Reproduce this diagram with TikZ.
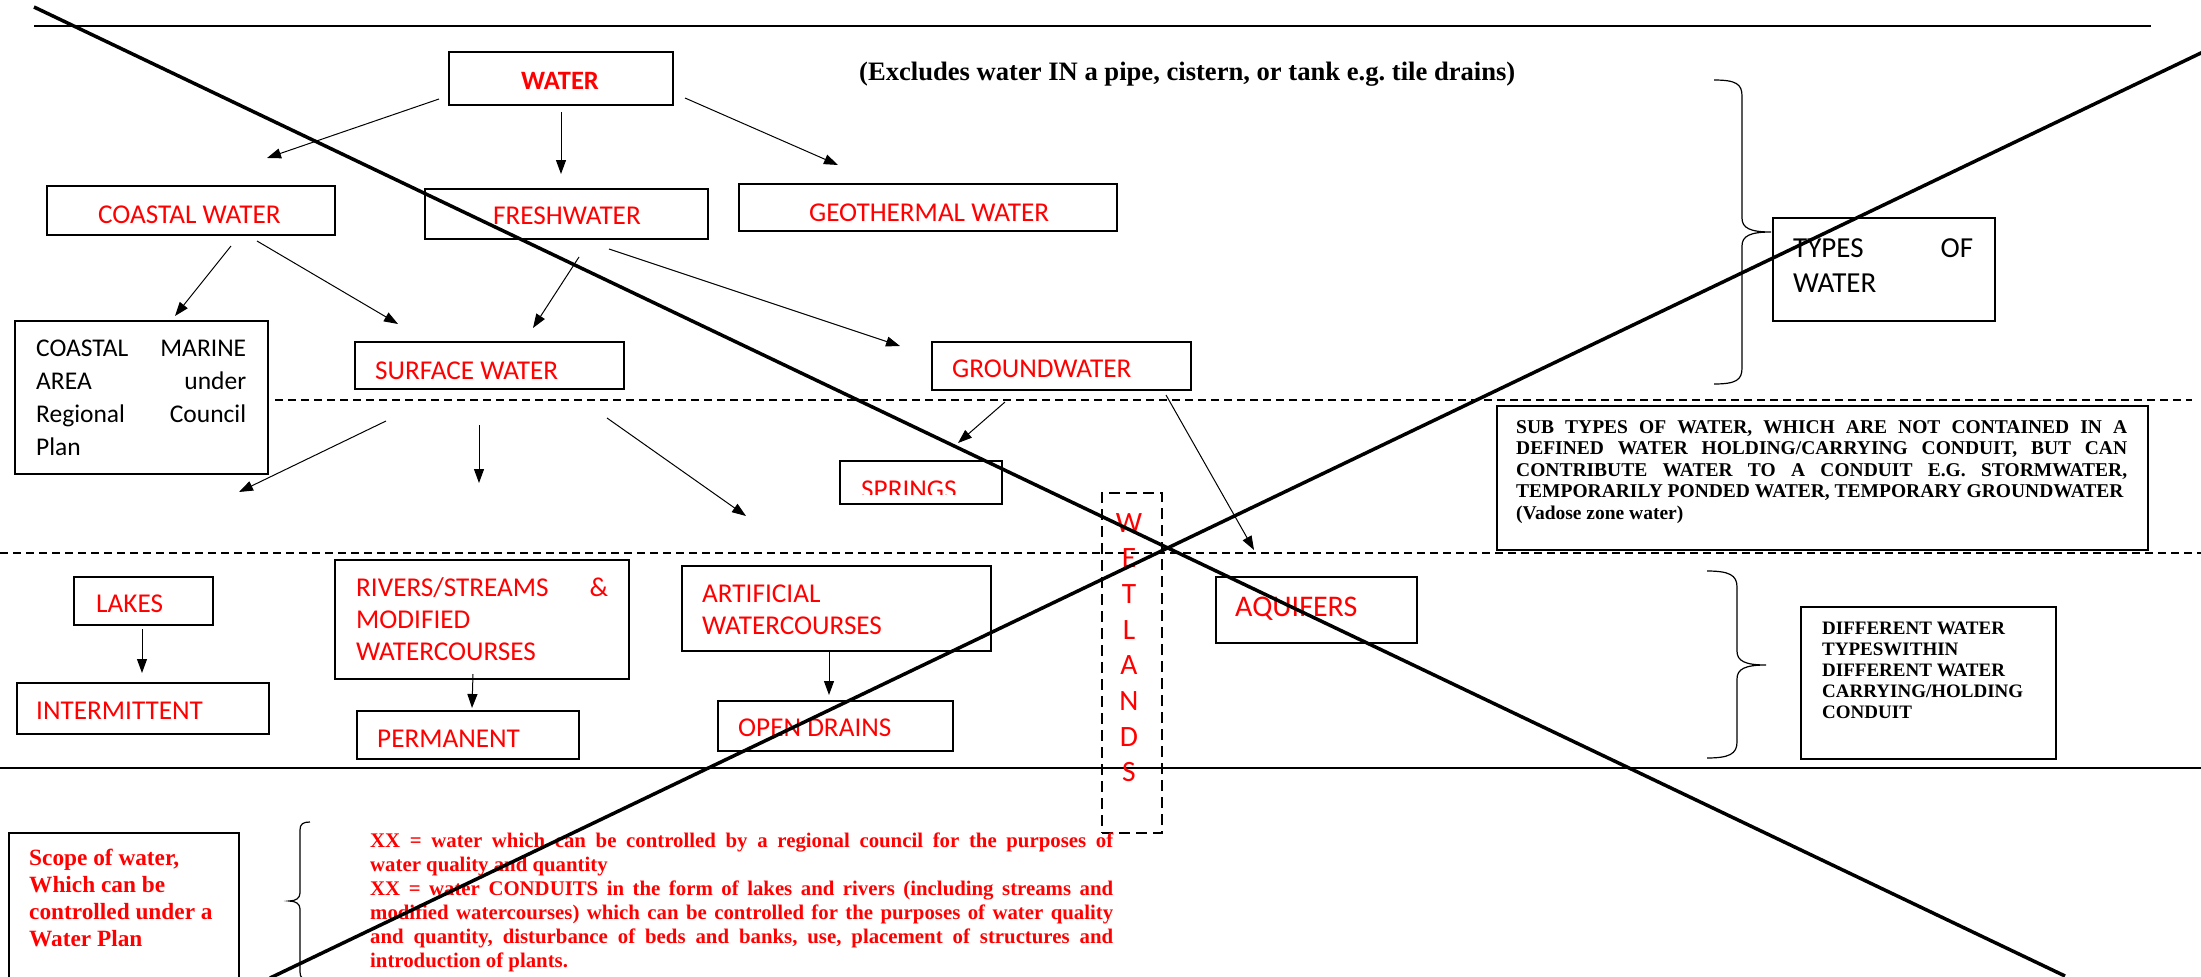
\documentclass[tikz,border=0pt]{standalone}
\usepackage{fontspec}
\setmainfont{Liberation Serif}
\newfontfamily\calib{Carlito}
\usetikzlibrary{arrows.meta, positioning}
\definecolor{wred}{RGB}{255,0,0}

\begin{document}
\frenchspacing
\begin{tikzpicture}[x=1pt, y=-1pt,
	box/.style={draw, line width=1.8pt, inner sep=0pt, outer sep=0pt, anchor=north west},
	dashbox/.style={box, dash pattern=on 11pt off 6pt, line width=1.6pt},
	lbl/.style={text=wred, font=\calib\fontsize{27.2}{32}\selectfont, inner sep=0pt, anchor=base west},
	blk/.style={font=\calib\fontsize{25.5}{33}\selectfont, inner sep=0pt, anchor=base west},
	note/.style={font=\bfseries\fontsize{19.5}{21.5}\selectfont, inner sep=0pt, anchor=base west},
	arr/.style={-{Triangle[length=14pt,width=10pt]}, line width=1pt},
	cross/.style={line width=3.5pt},
	brace/.style={line width=1.2pt}]
	\useasboundingbox (0,0) rectangle (2201,977);
	\clip (0,0) rectangle (2201,977);

	% separating lines
	\draw [line width=1.5pt] (34,26) -- (2151,26);
	\draw [line width=1.5pt, dash pattern=on 8pt off 5pt] (275,400) -- (2192,400);
	\draw [line width=1.5pt, dash pattern=on 8pt off 5pt] (0,553) -- (2201,553);
	\draw [line width=1.5pt] (0,768) -- (2201,768);

	% boxes
	\node [box, minimum width=224, minimum height=53] (water) at (449,52) {};
	\node [box, minimum width=288, minimum height=49] (coastal) at (47,186) {};
	\node [box, minimum width=283, minimum height=50] (fresh) at (425,189) {};
	\node [box, minimum width=378, minimum height=47] (geo) at (739,184) {};
	\node [box, minimum width=253, minimum height=153] (marine) at (15,321) {};
	\node [box, minimum width=269, minimum height=47] (surface) at (355,342) {};
	\node [box, minimum width=259, minimum height=48] (ground) at (932,342) {};
	\node [box, minimum width=162, minimum height=43] (springs) at (840,461) {};
	\node [box, minimum width=139, minimum height=48] (lakes) at (74,577) {};
	\node [box, minimum width=252, minimum height=51] (inter) at (17,683) {};
	\node [box, minimum width=294, minimum height=119] (rivers) at (335,560) {};
	\node [box, minimum width=222, minimum height=48] (perm) at (357,711) {};
	\node [box, minimum width=309, minimum height=85] (artif) at (682,566) {};
	\node [box, minimum width=235, minimum height=50] (drains) at (718,701) {};
	\node [box, minimum width=201, minimum height=66] (aquif) at (1216,577) {};
	\node [dashbox, minimum width=60, minimum height=340] (wetlands) at (1102,493) {};
	\node [box, minimum width=222, minimum height=103] (types) at (1773,218) {};
	\node [box, minimum width=651, minimum height=144] (subtypes) at (1497,406) {};
	\node [box, minimum width=255, minimum height=152] (diff) at (1801,607) {};
	\node [box, minimum width=230, minimum height=170] (scope) at (9,833) {};

	% labels
	\node [lbl, anchor=base, font=\calib\bfseries\fontsize{26.5}{31}\selectfont] (water-t) at (560,89) {WATER};
	\node [lbl] (coastal-t) at (98,223) {COASTAL WATER};
	\node [lbl] (fresh-t) at (493,224) {FRESHWATER};
	\node [lbl] (geo-t) at (809,221) {GEOTHERMAL WATER};
	\node [blk] (marine-t) at (36,356) {\parbox[t]{210pt}{COASTAL MARINE\linebreak AREA under\linebreak Regional Council\linebreak Plan}};
	\node [lbl] (surface-t) at (375,379) {SURFACE WATER};
	\node [lbl] (ground-t) at (952,377) {GROUNDWATER};
	\begin{scope}
		\clip (840,461) rectangle (1002,494);
		\node [lbl] (springs-t) at (861,498) {SPRINGS};
	\end{scope}
	\node [lbl] (lakes-t) at (96,612) {LAKES};
	\node [lbl] (inter-t) at (36,719) {INTERMITTENT};
	\node [lbl, font=\calib\fontsize{27.2}{32.3}\selectfont] (rivers-t) at (356,596) {\parbox[t]{252pt}{RIVERS/STREAMS \&\linebreak MODIFIED\\ WATERCOURSES}};
	\node [lbl] (artif-t) at (702,602) {\parbox[t]{280pt}{ARTIFICIAL\\ WATERCOURSES}};
	\node [lbl] (perm-t) at (377,747) {PERMANENT};
	\node [lbl] (drains-t) at (738,736) {OPEN DRAINS};
	\node [lbl, font=\calib\fontsize{30}{35}\selectfont] (aquif-t) at (1235,616) {AQUIFERS};
	\foreach \l [count=\i from 0] in {W,E,T,L,A,N,D,S}
		\node [lbl, anchor=base, font=\calib\fontsize{29.5}{34}\selectfont] (wet-\i) at (1129,532+35.7*\i) {\l};
	\node [blk, font=\calib\fontsize{29}{35}\selectfont] (types-t) at (1793,257) {\parbox[t]{180pt}{TYPES OF\linebreak WATER}};

	% notes
	\node [note, font=\bfseries\fontsize{26.6}{30}\selectfont] (excl-t) at (859,80) {(Excludes water IN a pipe, cistern, or tank e.g. tile drains)};
	\node [note] (subtypes-t) at (1516,433) {\parbox[t]{611pt}{SUB TYPES OF WATER, WHICH ARE NOT CONTAINED IN A\linebreak DEFINED WATER HOLDING/CARRYING CONDUIT, BUT CAN\linebreak CONTRIBUTE WATER TO A CONDUIT E.G. STORMWATER,\linebreak TEMPORARILY PONDED WATER, TEMPORARY GROUNDWATER\\ (Vadose zone water)}};
	\node [note, font=\bfseries\fontsize{19}{21}\selectfont] (diff-t) at (1822,634) {\parbox[t]{230pt}{\raggedright DIFFERENT WATER\\ TYPESWITHIN\\ DIFFERENT WATER\\ CARRYING/HOLDING\\ CONDUIT}};
	\node [note, text=wred, font=\bfseries\fontsize{23.3}{27}\selectfont] (scope-t) at (29,865) {\parbox[t]{205pt}{\raggedright Scope of water,\\ Which can be\\ controlled under a\\ Water Plan}};
	\node [note, text=wred, font=\bfseries\fontsize{20.8}{24}\selectfont] (xx-t) at (370,847) {\parbox[t]{743pt}{XX = water which can be controlled by a regional council for the purposes of\linebreak water quality and quantity\\ XX = water CONDUITS in the form of lakes and rivers (including streams and\linebreak modified watercourses) which can be controlled for the purposes of water quality\linebreak and quantity, disturbance of beds and banks, use, placement of structures and\linebreak introduction of plants.}};

	% arrows
	\draw [arr] ([xshift=-10pt,yshift=6pt]water.south west) -- ([xshift=76pt,yshift=28pt]coastal.north);
	\draw [arr] ([yshift=-7pt]water.south) -- ([xshift=-5.5pt,yshift=15pt]fresh.north);
	\draw [arr] ([xshift=12pt,yshift=7pt]water.south east) -- ([xshift=-90pt,yshift=19pt]geo.north);
	\draw [arr] ([xshift=40pt,yshift=-11pt]coastal.south) -- ([xshift=33.5pt,yshift=5pt]marine.north);
	\draw [arr] ([xshift=66pt,yshift=-6pt]coastal.south) -- ([xshift=-91.5pt,yshift=18pt]surface.north);
	\draw [arr] ([xshift=12.5pt,yshift=-18pt]fresh.south) -- ([xshift=43.5pt,yshift=14pt]surface.north);
	\draw [arr] ([xshift=42.5pt,yshift=-10pt]fresh.south) -- ([xshift=-32pt,yshift=20pt]ground.west);
	\draw [arr] ([xshift=-103.5pt,yshift=-32pt]surface.south) -- ([xshift=95.5pt,yshift=85pt]lakes.north);
	\draw [arr] ([xshift=-10.5pt,yshift=-36pt]surface.south) -- ([xshift=-3pt,yshift=77pt]rivers.north);
	\draw [arr] ([xshift=117.5pt,yshift=-29pt]surface.south) -- ([xshift=-90.5pt,yshift=50pt]artif.north);
	\draw [arr] ([xshift=-56.5pt,yshift=-12pt]ground.south) -- ([xshift=37pt,yshift=18pt]springs.north);
	\draw [arr] ([xshift=-25pt,yshift=-5pt]ground.south east) -- ([xshift=-62.5pt,yshift=27pt]aquif.north);
	\draw [arr] ([xshift=-1.5pt,yshift=-4pt]lakes.south) -- ([xshift=-1pt,yshift=10pt]inter.north);
	\draw [arr] ([xshift=-9pt,yshift=5pt]rivers.south) -- ([xshift=4pt,yshift=3pt]perm.north);
	\draw [arr] ([xshift=-7.5pt]artif.south) -- ([xshift=-6.5pt,yshift=6pt]drains.north);

	% braces
	\draw [brace] (1714,80) .. controls (1736,80) and (1742,84) .. (1742,96) -- (1742,218)
		.. controls (1742,228) and (1750,232) .. (1771,232) .. controls (1750,232) and (1742,236) .. (1742,246)
		-- (1742,368) .. controls (1742,380) and (1736,384) .. (1714,384);
	\draw [brace] (1707,571) .. controls (1729,571) and (1737,575) .. (1737,587) -- (1737,651)
		.. controls (1737,661) and (1745,665) .. (1766,665) .. controls (1745,665) and (1737,669) .. (1737,679)
		-- (1737,742) .. controls (1737,754) and (1729,758) .. (1707,758);
	\draw [brace] (310,822) .. controls (303,822) and (300,824) .. (300,830) -- (300,893)
		.. controls (300,898) and (296,901) .. (289,901) .. controls (296,901) and (300,904) .. (300,909)
		-- (300,972) .. controls (300,978) and (303,980) .. (310,980);

	% crossing out
	\draw [cross] (34,7) -- (2065,976);
	\draw [cross] (270,978) -- (2203,52);
\end{tikzpicture}
\end{document}
